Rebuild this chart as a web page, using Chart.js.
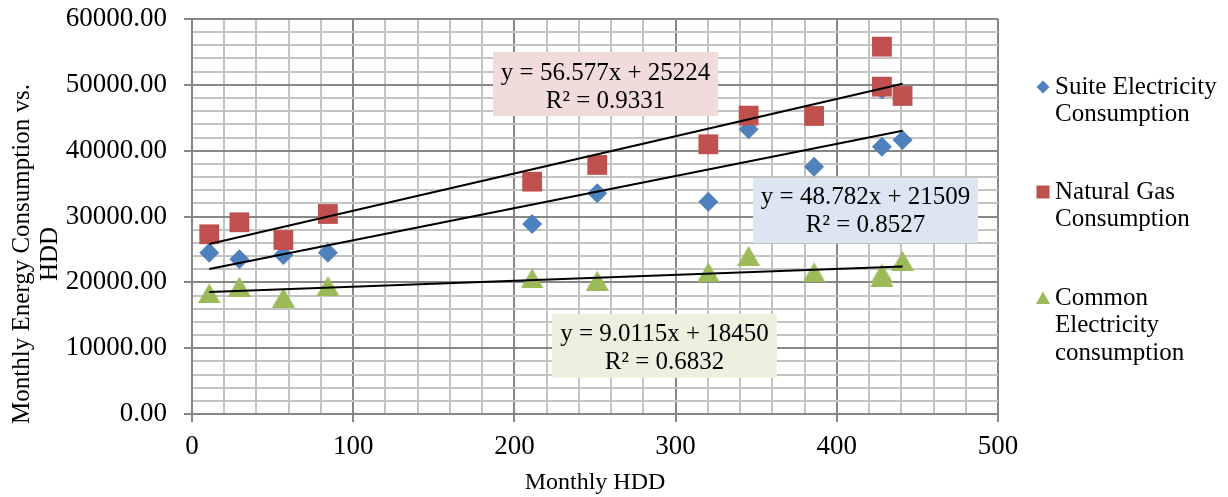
<!DOCTYPE html>
<html lang="en">
<head>
  <meta charset="UTF-8">
  <title>Monthly Energy Consumption vs. HDD</title>
  <script src="https://cdn.jsdelivr.net/npm/chart.js"></script>
  <style>
    html, body { margin: 0; padding: 0; background: #fff; }
    #wrap { width: 1228px; height: 497px; }
  </style>
</head>
<body>
<div id="wrap"><canvas id="myChart" width="1228" height="497"></canvas></div>

<script>
  // Monthly HDD (x) and the three consumption series
  const hdd    = [10.7, 29.4, 56.7, 84.3, 211.0, 251.4, 320.3, 345.3, 385.9, 428.0, 428.0, 440.8];
  const suite  = [24500, 23500, 24150, 24500, 28860, 33530, 32250, 43250, 37570, 40610, 49300, 41620];
  const gas    = [27300, 29120, 26430, 30380, 35290, 37830, 40970, 45320, 45270, 55800, 49720, 48310];
  const common = [18320, 19340, 17670, 19440, 20600, 20250, 21510, 24000, 21510, 21350, 20850, 23240];

  const seriesNames = ['Suite Electricity Consumption', 'Natural Gas Consumption', 'Common Electricity consumption'];
  const legendLines = [['Suite Electricity', 'Consumption'], ['Natural Gas', 'Consumption'], ['Common', 'Electricity', 'consumption']];

  // linear trendlines as printed on the chart: [slope, intercept, R²]
  const trendSuite  = [48.782, 21509, 0.8527];
  const trendGas    = [56.577, 25224, 0.9331];
  const trendCommon = [9.0115, 18450, 0.6832];

  const blue = '#4F81BD', red = '#C0504D', green = '#9BBB59';
  const major = '#878787', minor = '#c3c3c3';
  const serif = "'Liberation Serif', 'DejaVu Serif', serif";

  const pts = ys => hdd.map((x, i) => ({ x: x, y: ys[i] }));
  const xMin = Math.min(...hdd), xMax = Math.max(...hdd);
  const trend = t => [{ x: xMin, y: t[0] * xMin + t[1] }, { x: xMax, y: t[0] * xMax + t[1] }];

  // Excel style triangle marker, centred on its bounding box
  function triangleCanvas(w, h, color) {
    const c = document.createElement('canvas');
    c.width = w; c.height = h;
    const g = c.getContext('2d');
    g.fillStyle = color;
    g.beginPath();
    g.moveTo(w / 2, 0); g.lineTo(w, h); g.lineTo(0, h);
    g.closePath(); g.fill();
    return c;
  }
  const tri = triangleCanvas(23, 20, green);

  const fmtEq = t => 'y = ' + t[0] + 'x + ' + t[1];
  const fmtR = t => 'R\u00B2 = ' + t[2].toFixed(4);

  // boxes with the trendline equations
  const labelBoxes = [
    { t: trendGas,    fill: '#F2DCDB', box: [493, 52, 225, 64],  lines: [73, 101] },
    { t: trendSuite,  fill: '#DCE6F2', box: [753, 178, 225, 65], lines: [197, 225] },
    { t: trendCommon, fill: '#EBF1DE', box: [552, 314, 225, 64], lines: [334, 362] }
  ];

  const extras = {
    id: 'extras',
    afterDatasetsDraw(chart) {
      const ctx = chart.ctx;
      ctx.save();
      ctx.font = '25px ' + serif;
      ctx.textAlign = 'center';
      ctx.textBaseline = 'middle';
      labelBoxes.forEach(b => {
        ctx.fillStyle = b.fill;
        ctx.fillRect(b.box[0], b.box[1], b.box[2], b.box[3]);
        ctx.fillStyle = '#000';
        const cx = b.box[0] + b.box[2] / 2;
        ctx.fillText(fmtEq(b.t), cx, b.lines[0]);
        ctx.fillText(fmtR(b.t), cx, b.lines[1]);
      });
      ctx.restore();
    },
    afterDraw(chart) {
      const ctx = chart.ctx;
      ctx.save();
      // y axis title
      ctx.font = '25px ' + serif;
      ctx.fillStyle = '#000';
      ctx.textAlign = 'center';
      ctx.textBaseline = 'middle';
      ctx.translate(22, 254);
      ctx.rotate(-Math.PI / 2);
      ctx.fillText('Monthly Energy Consumption vs.', 0, 0);
      ctx.fillText('HDD', 0, 28);
      ctx.restore();

      // legend
      ctx.save();
      ctx.font = '25px ' + serif;
      ctx.fillStyle = '#000';
      ctx.textAlign = 'left';
      ctx.textBaseline = 'middle';
      const tops = [87, 192, 298];
      legendLines.forEach((lines, i) => {
        lines.forEach((s, j) => ctx.fillText(s, 1055, tops[i] + j * 27.5));
      });
      const mx = 1043;
      ctx.fillStyle = blue;
      ctx.beginPath();
      ctx.moveTo(mx, tops[0] - 6.5); ctx.lineTo(mx + 6.5, tops[0]);
      ctx.lineTo(mx, tops[0] + 6.5); ctx.lineTo(mx - 6.5, tops[0]);
      ctx.closePath(); ctx.fill();
      ctx.fillStyle = red;
      ctx.fillRect(mx - 6.5, tops[1] - 6.5, 13, 13);
      ctx.fillStyle = green;
      ctx.beginPath();
      ctx.moveTo(mx, tops[2] - 6.5); ctx.lineTo(mx + 7, tops[2] + 6);
      ctx.lineTo(mx - 7, tops[2] + 6);
      ctx.closePath(); ctx.fill();
      ctx.restore();
    }
  };

  const data = {
    datasets: [
      { label: 'trend gas', type: 'line', data: trend(trendGas), borderColor: '#000', borderWidth: 2, pointRadius: 0, order: 0 },
      { label: 'trend suite', type: 'line', data: trend(trendSuite), borderColor: '#000', borderWidth: 2, pointRadius: 0, order: 0 },
      { label: 'trend common', type: 'line', data: trend(trendCommon), borderColor: '#000', borderWidth: 2, pointRadius: 0, order: 0 },
      { label: seriesNames[0], data: pts(suite), pointStyle: 'rectRot', pointRadius: 10, backgroundColor: blue, borderWidth: 0, order: 3 },
      { label: seriesNames[1], data: pts(gas), pointStyle: 'rect', pointRadius: 14, backgroundColor: red, borderWidth: 0, order: 2 },
      { label: seriesNames[2], data: pts(common), pointStyle: tri, pointRadius: 12, backgroundColor: green, borderWidth: 0, order: 1 }
    ]
  };

  const gridColor = (step) => (c) => (c.tick && c.tick.value % step === 0) ? major : minor;
  const tickColor = (step) => (c) => (c.tick && c.tick.value % step === 0) ? major : 'rgba(0,0,0,0)';

  const config = {
    type: 'scatter',
    data: data,
    options: {
      responsive: false,
      animation: false,
      layout: { padding: { top: 19, right: 230, bottom: 0, left: 0 } },
      plugins: { legend: { display: false }, tooltip: { enabled: false } },
      scales: {
        x: {
          type: 'linear', min: 0, max: 500,
          afterFit(scale) { scale.height = 83; scale.paddingLeft = 0; scale.paddingRight = 0; },
          ticks: {
            stepSize: 20, autoSkip: false, maxRotation: 0, padding: 9, color: '#000',
            font: { family: serif, size: 27 },
            callback: v => (v % 100 === 0 ? String(v) : '')
          },
          grid: { color: gridColor(100), tickColor: tickColor(100), lineWidth: 2, tickLength: 8 },
          border: { color: major, width: 2 },
          title: { display: true, text: 'Monthly HDD', color: '#000', font: { family: serif, size: 24 }, padding: { top: 0, bottom: 0 } }
        },
        y: {
          type: 'linear', min: 0, max: 60000,
          afterFit(scale) { scale.width = 192; scale.paddingTop = 0; scale.paddingBottom = 0; },
          ticks: {
            stepSize: 2000, autoSkip: false, padding: 17, color: '#000',
            font: { family: serif, size: 27 },
            callback: v => (v % 10000 === 0 ? v.toFixed(2) : '')
          },
          grid: { color: gridColor(10000), tickColor: tickColor(10000), lineWidth: 2, tickLength: 8 },
          border: { color: major, width: 2 }
        }
      }
    },
    plugins: [extras]
  };

  const ctx = document.getElementById('myChart').getContext('2d');
  new Chart(ctx, config);
</script>
</body>
</html>
